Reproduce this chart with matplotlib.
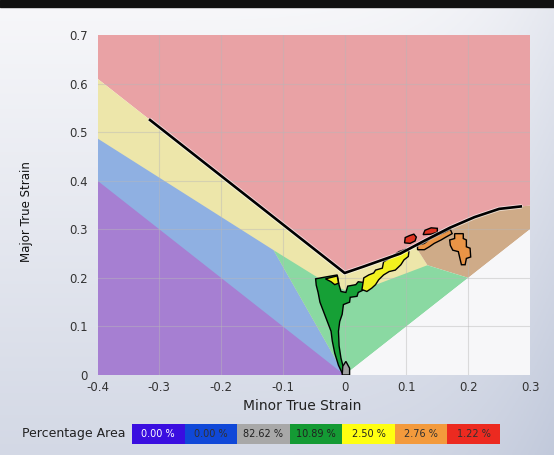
import numpy as np
import matplotlib
matplotlib.use("Agg")
from matplotlib import pyplot as plt


# forming limit curve (minor strain, major strain)
FLC_X = [-0.315, 0.0, 0.03, 0.09, 0.13, 0.17, 0.21, 0.25, 0.285]
FLC_Y = [0.525, 0.21, 0.223, 0.25, 0.277, 0.303, 0.325, 0.342, 0.347]

# background zones, drawn in this order (later ones on top)
ZONE_CRACK = [(-0.4, 0.61), (-0.315, 0.525), (0.0, 0.21), (0.03, 0.223), (0.09, 0.25),
              (0.13, 0.277), (0.17, 0.303), (0.21, 0.325), (0.25, 0.342), (0.285, 0.347),
              (0.31, 0.35), (0.31, 0.72), (-0.4, 0.72)]
ZONE_MARGIN = [(-0.4, 0.61), (-0.315, 0.525), (0.0, 0.21), (0.03, 0.223), (0.09, 0.25),
               (0.115, 0.264), (0.134, 0.226), (0.0, 0.0), (-0.4, 0.0)]
ZONE_TAN = [(0.115, 0.264), (0.13, 0.277), (0.17, 0.303), (0.21, 0.325), (0.25, 0.342),
            (0.285, 0.347), (0.31, 0.35), (0.31, 0.31), (0.2, 0.2), (0.134, 0.226)]
ZONE_WRINKLE_TEND = [(-0.4, 0.487), (-0.115, 0.257), (0.0, 0.0), (-0.4, 0.0)]
ZONE_WRINKLE = [(-0.4, 0.4), (0.0, 0.0), (-0.4, 0.0)]
ZONE_SAFE = [(-0.115, 0.257), (-0.03, 0.19), (0.0, 0.175), (0.03, 0.176), (0.134, 0.226),
             (0.2, 0.2), (0.0, 0.0)]
ZONE_LOW = [(0.0, 0.0), (0.31, 0.31), (0.31, 0.0)]

# measured point clusters
CLUSTER_GREEN = [(-0.047, 0.198), (-0.030, 0.202), (-0.012, 0.206), (-0.009, 0.185),
                 (-0.006, 0.172), (0.002, 0.170), (0.005, 0.183), (0.018, 0.186),
                 (0.022, 0.192), (0.034, 0.190), (0.037, 0.184), (0.032, 0.176),
                 (0.022, 0.170), (0.020, 0.162), (0.009, 0.160), (0.008, 0.150),
                 (-0.002, 0.145), (-0.004, 0.125), (-0.008, 0.110), (-0.010, 0.090),
                 (-0.009, 0.060), (-0.006, 0.035), (-0.002, 0.015), (0.002, 0.004),
                 (-0.004, 0.004), (-0.010, 0.020), (-0.016, 0.045), (-0.020, 0.070),
                 (-0.022, 0.090), (-0.028, 0.110), (-0.034, 0.130), (-0.040, 0.150),
                 (-0.043, 0.170), (-0.046, 0.185)]
CLUSTER_GREY = [(-0.004, 0.0), (0.008, 0.0), (0.008, 0.014), (0.002, 0.028), (-0.003, 0.018)]
CLUSTER_YELLOW_A = [(-0.031, 0.198), (-0.012, 0.204), (-0.010, 0.189), (-0.016, 0.186),
                    (-0.022, 0.192)]
CLUSTER_YELLOW_B = [(0.028, 0.176), (0.031, 0.200), (0.039, 0.206), (0.047, 0.210),
                    (0.050, 0.216), (0.061, 0.220), (0.063, 0.233), (0.072, 0.240),
                    (0.080, 0.247), (0.088, 0.254), (0.099, 0.259), (0.104, 0.254),
                    (0.103, 0.244), (0.096, 0.237), (0.091, 0.227), (0.082, 0.216),
                    (0.072, 0.213), (0.063, 0.206), (0.055, 0.196), (0.050, 0.186),
                    (0.044, 0.179), (0.036, 0.172)]
CLUSTER_ORANGE_A = [(0.118, 0.258), (0.118, 0.267), (0.129, 0.271), (0.137, 0.279),
                    (0.151, 0.288), (0.162, 0.294), (0.171, 0.300), (0.174, 0.291),
                    (0.164, 0.284), (0.156, 0.278), (0.145, 0.271), (0.137, 0.264),
                    (0.129, 0.258)]
CLUSTER_ORANGE_B = [(0.178, 0.291), (0.192, 0.291), (0.192, 0.281), (0.197, 0.278),
                    (0.197, 0.264), (0.203, 0.261), (0.204, 0.243), (0.197, 0.240),
                    (0.195, 0.227), (0.189, 0.227), (0.186, 0.243), (0.184, 0.254),
                    (0.175, 0.257), (0.171, 0.267), (0.170, 0.278), (0.178, 0.281)]
CLUSTER_RED_A = [(0.097, 0.272), (0.098, 0.283), (0.105, 0.287), (0.112, 0.290),
                 (0.116, 0.284), (0.114, 0.276), (0.106, 0.271)]
CLUSTER_RED_B = [(0.127, 0.289), (0.130, 0.298), (0.140, 0.303), (0.150, 0.302),
                 (0.150, 0.294), (0.140, 0.290)]

X_TICKS = [-0.4, -0.3, -0.2, -0.1, 0, 0.1, 0.2, 0.3]
Y_TICKS = [0, 0.1, 0.2, 0.3, 0.4, 0.5, 0.6, 0.7]

LEGEND_VALUES = ["0.00 %", "0.00 %", "82.62 %", "10.89 %", "2.50 %", "2.76 %", "1.22 %"]
LEGEND_COLORS = ["#3a0ee0", "#1048d8", "#a8a8a8", "#149a34", "#ffff10", "#f39a3c", "#ec2a20"]
LEGEND_TEXT = ["white", "#303030", "#202020", "#202020", "#202020", "#303030", "#303030"]


def fill_zone(ax, pts, color, **kw):
    xs, ys = zip(*pts)
    ax.fill(xs, ys, color=color, lw=0, **kw)


fig = plt.figure(figsize=(5.54, 4.55), dpi=100)

# soft gradient background + dark strip on top
bg = fig.add_axes([0, 0, 1, 1], zorder=-10)
gy = np.linspace(0, 1, 200)[:, None]
gx = np.linspace(0, 1, 200)[None, :]
shade = 0.25 * gy + 0.12 * gx ** 6
top = np.array([0.97, 0.97, 0.98])
bottom = np.array([0.76, 0.79, 0.86])
img = top + (bottom - top) * shade[..., None] / shade.max()
bg.imshow(img, extent=[0, 1, 0, 1], aspect="auto", origin="upper")
bg.axhspan(0.985, 1.0, color="#111111")
bg.set_xlim(0, 1)
bg.set_ylim(0, 1)
bg.axis("off")

ax = fig.add_axes([0.176, 0.1758, 0.7807, 0.7473])
fill_zone(ax, ZONE_CRACK, "#e9a2a5")
fill_zone(ax, ZONE_MARGIN, "#ede6aa")
fill_zone(ax, ZONE_TAN, "#cfab88")
fill_zone(ax, ZONE_WRINKLE_TEND, "#8fb0e2")
fill_zone(ax, ZONE_WRINKLE, "#a67fd2")
fill_zone(ax, ZONE_SAFE, "#8ad9a2")
fill_zone(ax, ZONE_LOW, "#f7f7f9")

for t in X_TICKS[1:-1]:
    ax.axvline(t, color="#b8b8b8", lw=0.8, alpha=0.45, zorder=1)
for t in Y_TICKS[1:-1]:
    ax.axhline(t, color="#b8b8b8", lw=0.8, alpha=0.45, zorder=1)

clusters = [
    (CLUSTER_GREEN, "#16a036"),
    (CLUSTER_GREY, "#a0a0a0"),
    (CLUSTER_YELLOW_A, "#f2f21e"),
    (CLUSTER_YELLOW_B, "#f2f21e"),
    (CLUSTER_ORANGE_A, "#e99446"),
    (CLUSTER_ORANGE_B, "#e99446"),
    (CLUSTER_RED_A, "#e03422"),
    (CLUSTER_RED_B, "#e03422"),
]
for pts, col in clusters:
    xs, ys = zip(*pts)
    ax.fill(xs, ys, facecolor=col, edgecolor="black", lw=1.0, zorder=3)

ax.plot(FLC_X, FLC_Y, color="white", lw=3.2, alpha=0.6, zorder=4, solid_capstyle="round")
ax.plot(FLC_X, FLC_Y, color="black", lw=1.9, zorder=5)

ax.set_xlim(-0.4, 0.3)
ax.set_ylim(0, 0.7)
ax.set_xticks(X_TICKS)
ax.set_yticks(Y_TICKS)
ax.set_xticklabels(["-0.4", "-0.3", "-0.2", "-0.1", "0", "0.1", "0.2", "0.3"])
ax.set_yticklabels(["0", "0.1", "0.2", "0.3", "0.4", "0.5", "0.6", "0.7"])
ax.tick_params(length=0, labelsize=8.5, labelcolor="#333333")
ax.tick_params(axis="x", pad=4)
ax.tick_params(axis="y", pad=7)
for s in ax.spines.values():
    s.set_visible(False)
ax.set_xlabel("Minor True Strain", fontsize=10, color="#222222")
ax.xaxis.set_label_coords(0.473, -0.07)
ax.set_ylabel("Major True Strain", fontsize=8.5, color="#111111")
ax.yaxis.set_label_coords(-0.148, 0.482)

# percentage area legend
fig.text(22 / 554, 1 - 434 / 455, "Percentage Area", fontsize=9, color="#222222",
         va="center", ha="left")
lg = fig.add_axes([132 / 554, 1 - 444 / 455, 368 / 554, 20 / 455])
pos = np.arange(len(LEGEND_VALUES))
lg.bar(pos, [1] * len(pos), width=1.0, color=LEGEND_COLORS, align="edge")
for p, v, c in zip(pos, LEGEND_VALUES, LEGEND_TEXT):
    lg.text(p + 0.5, 0.5, v, ha="center", va="center", fontsize=7, color=c)
lg.set_xlim(0, len(pos))
lg.set_ylim(0, 1)
lg.axis("off")

fig.savefig("out.png", dpi=100)
